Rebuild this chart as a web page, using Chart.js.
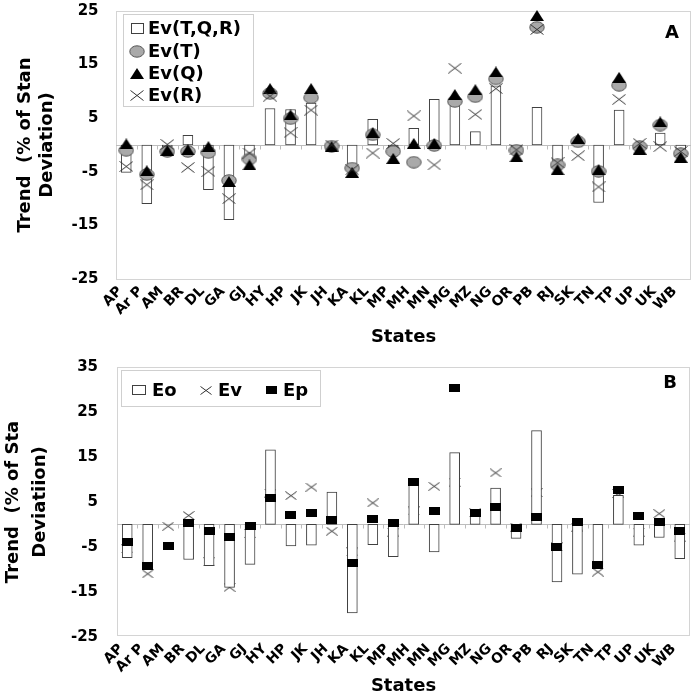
<!DOCTYPE html>
<html><head><meta charset="utf-8">
<script src="https://cdn.jsdelivr.net/npm/chart.js@4.4.1/dist/chart.umd.min.js"></script>
<style>html,body{margin:0;padding:0;background:#fff;width:697px;height:697px;overflow:hidden}canvas{display:block}</style>
</head><body>
<canvas id="ca" width="697" height="348"></canvas>
<canvas id="cb" width="697" height="349"></canvas>
<script>
// ---------- data ----------
const states = ['AP','Ar P','AM','BR','DL','GA','GJ','HY','HP','JK','JH','KA','KL','MP','MH','MN','MG','MZ','NG','OR','PB','RJ','SK','TN','TP','UP','UK','WB'];
// Panel A
const evTQR = [-5.1,-10.9,-0.4,1.8,-8.3,-13.9,-2.5,6.8,6.6,7.8,0.2,-4.0,4.8,-0.5,3.1,8.5,7.5,2.5,11.0,-0.5,7.0,-3.1,0.5,-10.7,6.5,0.2,2.2,-1.0];
const evT   = [-1.0,-5.5,-1.2,-1.2,-1.4,-6.6,-2.6,9.6,4.9,8.8,-0.2,-4.3,1.9,-1.2,-3.2,-0.1,8.1,9.0,12.3,-1.0,21.9,-3.7,0.6,-4.9,11.1,-0.3,3.7,-1.6];
const evQ   = [0.2,-4.8,-1.0,-0.9,-0.3,-6.8,-3.7,10.5,5.6,10.5,-0.3,-5.1,2.3,-2.5,0.3,0.3,9.4,10.3,13.6,-2.2,24.1,-4.6,1.2,-4.6,12.6,-0.8,4.3,-2.3];
const evR   = [-4.0,-7.4,0.1,-4.2,-4.9,-10.0,-1.5,9.1,2.3,6.5,0.0,-4.6,-1.5,0.3,5.4,-3.7,14.3,5.7,10.5,-0.9,21.5,-3.3,-2.0,-7.8,8.5,0.3,-0.3,-1.2];
// Panel B
const eo = [-7.4,-10.0,null,-7.8,-9.2,-14.0,-8.9,16.6,-4.8,-4.6,7.2,-19.7,-4.5,-7.2,9.8,-6.1,16.0,1.8,8.1,-3.1,20.9,-12.8,-11.1,-9.5,6.5,-4.6,-2.9,-7.6];
const ev = [-5.4,-11.0,-0.4,2.0,-8.3,-14.0,-2.0,7.0,6.4,8.3,-1.5,-6.1,4.8,-1.7,3.0,8.5,9.4,2.6,11.5,-0.6,7.1,-5.0,-0.6,-10.6,6.9,-1.7,2.4,-2.8];
const ep = [-4.0,-9.3,-4.8,0.4,-1.4,-2.8,-0.4,6.0,2.2,2.6,0.9,-8.6,1.2,0.4,9.4,2.9,30.4,2.6,3.9,-0.7,1.7,-5.0,0.6,-9.1,7.7,1.8,0.6,-1.4];
const ticksA = {min:-25, max:25, step:10};
const ticksB = {min:-25, max:35, step:10};

// ---------- marker images ----------
function mk(w,h,draw){const c=document.createElement('canvas');c.width=w;c.height=h;const g=c.getContext('2d');draw(g,w,h);return c;}
const imgCircle = mk(16,13,(g,w,h)=>{g.beginPath();g.ellipse(w/2,h/2,w/2-0.8,h/2-0.8,0,0,Math.PI*2);g.fillStyle='#a9a9a9';g.fill();g.lineWidth=1;g.strokeStyle='#555';g.stroke();});
const imgTri = mk(14,11,(g,w,h)=>{g.beginPath();g.moveTo(w/2,0);g.lineTo(w,h);g.lineTo(0,h);g.closePath();g.fillStyle='#000';g.fill();});
const mkX = (w,h)=>mk(w,h,(g)=>{g.beginPath();g.moveTo(0.5,0.5);g.lineTo(w-0.5,h-0.5);g.moveTo(w-0.5,0.5);g.lineTo(0.5,h-0.5);g.strokeStyle='#333';g.lineWidth=1;g.stroke();});
const imgXA = mkX(14,11);
const imgXB = mkX(12,9);
const imgSq = mk(11,8,(g,w,h)=>{g.fillStyle='#000';g.fillRect(0,0,w,h);});
const mkBox = (w,h)=>mk(w,h,(g)=>{g.strokeStyle='#404040';g.lineWidth=1;g.strokeRect(0.5,0.5,w-1,h-1);});
const imgBoxA = mkBox(13,11);
const imgBoxB = mkBox(14,10);

const FONT = "'DejaVu Sans', sans-serif";
Chart.defaults.font.family = FONT;
Chart.defaults.font.weight = 'bold';
Chart.defaults.color = '#000';

const framePlugin = {
  id:'frame',
  beforeDatasetsDraw(chart){
    const {ctx, chartArea:a, scales:{x,y}} = chart;
    ctx.save();
    ctx.strokeStyle='#d4d4d4'; ctx.lineWidth=1;
    ctx.strokeRect(Math.round(a.left)+0.5, Math.round(a.top)+0.5, Math.round(a.width)-1, Math.round(a.height)-1);
    const y0 = Math.round(y.getPixelForValue(0))+0.5;
    ctx.strokeStyle='#bdbdbd';
    ctx.beginPath(); ctx.moveTo(a.left,y0); ctx.lineTo(a.right,y0);
    const n = chart.data.labels.length;
    for(let i=0;i<n-1;i++){
      const xb = Math.round((x.getPixelForValue(i)+x.getPixelForValue(i+1))/2)+0.5;
      ctx.moveTo(xb,y0); ctx.lineTo(xb,y0+4);
    }
    ctx.stroke();
    ctx.restore();
  }
};

function legendPlugin(spec){
  return {
    id:'customLegend',
    afterDraw(chart){
      const ctx = chart.ctx;
      ctx.save();
      ctx.fillStyle='#fff'; ctx.fillRect(spec.box[0],spec.box[1],spec.box[2],spec.box[3]);
      ctx.strokeStyle='#cfcfcf'; ctx.lineWidth=1;
      ctx.strokeRect(spec.box[0]+0.5,spec.box[1]+0.5,spec.box[2],spec.box[3]);
      ctx.font = 'bold 18px '+FONT; ctx.fillStyle='#000'; ctx.textBaseline='middle'; ctx.textAlign='left';
      spec.items.forEach(it=>{
        const img = it.img;
        ctx.drawImage(img, Math.round(it.sx - img.width/2), Math.round(it.y - img.height/2));
        ctx.fillText(chart.data.datasets[it.ds].label, it.tx, it.y+1);
      });
      ctx.font = 'bold 18px '+FONT; ctx.textAlign='center';
      ctx.fillText(spec.letter[0], spec.letter[1], spec.letter[2]);
      ctx.restore();
    }
  };
}

function pointDs(label, data, img, order){
  return {type:'line', label, data, showLine:false, pointStyle:img, pointRadius:5, pointHoverRadius:5, order, clip:false, borderColor:'#000', backgroundColor:'#000'};
}
function barDs(label, data, order){
  return {type:'bar', label, data, backgroundColor:'#fff', borderColor:'#404040', borderWidth:1, borderSkipped:false, barThickness:10, order};
}

function makeOpts(t, yW, xH, padR, padT, yTitle, yTitleLH, yTitlePadTop, tickLen){
  return {
    responsive:false, animation:false, devicePixelRatio:1, events:[],
    layout:{padding:{left:0,right:padR,top:padT,bottom:0}},
    plugins:{legend:{display:false}, tooltip:{enabled:false}},
    scales:{
      x:{
        grid:{display:false, drawTicks:false}, border:{display:false},
        ticks:{autoSkip:false, maxRotation:45, minRotation:45, font:{size:14, weight:'bold'}, color:'#000', padding:4, labelOffset:-6},
        title:{display:true, text:'States', font:{size:18, weight:'bold'}, color:'#000', padding:{top:0,bottom:0}},
        afterFit(s){ s.height = xH; }
      },
      y:{
        min:t.min, max:t.max,
        ticks:{stepSize:t.step, font:{size:15, weight:'bold'}, color:'#000', padding:1.5},
        grid:{display:false, drawTicks:true, tickLength:tickLen}, border:{display:false},
        title:{display:true, text:yTitle, font:{size:18, weight:'bold', lineHeight:yTitleLH}, color:'#000', padding:{top:yTitlePadTop,bottom:0}},
        afterFit(s){ s.width = yW; }
      }
    }
  };
}

new Chart(document.getElementById('ca'), {
  type:'bar',
  data:{labels:states, datasets:[
    barDs('Ev(T,Q,R)', evTQR, 4),
    pointDs('Ev(T)', evT, imgCircle, 3),
    pointDs('Ev(Q)', evQ, imgTri, 2),
    pointDs('Ev(R)', evR, imgXA, 1)
  ]},
  options: makeOpts(ticksA, 116, 68.7, 5, 10.7, ['Trend  (% of Stan','Deviation)'], 1.22, 14, 16),
  plugins:[framePlugin, legendPlugin({
    box:[123,14,130,92],
    items:[
      {ds:0, img:imgBoxA, sx:137, tx:148, y:28.5},
      {ds:1, img:imgCircle, sx:137, tx:148, y:51},
      {ds:2, img:imgTri, sx:137, tx:148, y:73.5},
      {ds:3, img:imgXA, sx:137, tx:148, y:95.5}
    ],
    letter:['A',672,33]
  })]
});

new Chart(document.getElementById('cb'), {
  type:'bar',
  data:{labels:states, datasets:[
    barDs('Eo', eo, 2),
    pointDs('Ev', ev, imgXB, 3),
    pointDs('Ep', ep, imgSq, 1)
  ]},
  options: makeOpts(ticksB, 117, 60.3, 7, 19.3, ['Trend  (% of Sta','Deviatiion)'], 1.5, 0, 17.5),
  plugins:[framePlugin, legendPlugin({
    box:[121,22,199,36],
    items:[
      {ds:0, img:imgBoxB, sx:139, tx:152, y:42},
      {ds:1, img:imgXB, sx:205.5, tx:218, y:42},
      {ds:2, img:imgSq, sx:271, tx:283, y:42}
    ],
    letter:['B',670,35]
  })]
});
</script>
</body></html>
